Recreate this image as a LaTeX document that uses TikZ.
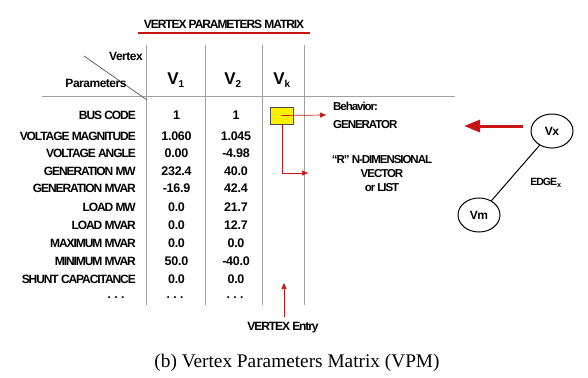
\documentclass[tikz,border=0pt]{standalone}
\usepackage{fontspec}
\setmainfont{Liberation Sans}
\newfontfamily\capfont{Liberation Serif}
\newfontfamily\tightfont[LetterSpace=-9]{Liberation Sans}
\newfontfamily\midfont[LetterSpace=-4]{Liberation Sans}
\newfontfamily\numfont[LetterSpace=-2]{Liberation Sans}
\usetikzlibrary{arrows.meta,shapes.geometric}
\definecolor{arrred}{RGB}{200,20,20}
\definecolor{gridgray}{RGB}{160,160,160}
\definecolor{boxyellow}{RGB}{250,240,0}
\tikzset{
  lbl/.style={font=\tightfont\bfseries\fontsize{12}{13}\selectfont, inner sep=0pt, anchor=east},
  val/.style={font=\numfont\bfseries\fontsize{12.5}{13}\selectfont, inner sep=0pt},
  hdr/.style={font=\midfont\bfseries\fontsize{17}{19}\selectfont, inner sep=0pt},
  note/.style={font=\tightfont\bfseries\fontsize{11.5}{14}\selectfont, inner sep=0pt, align=center},
  gridline/.style={draw=gridgray, line width=0.9pt},
  redarrow/.style={draw=arrred, line width=0.7pt, -{Triangle[length=6pt,width=5pt]}},
  vert/.style={draw, ellipse, minimum width=42pt, minimum height=34pt, line width=1pt, inner sep=0pt, font=\midfont\bfseries\fontsize{12}{13}\selectfont},
  dots/.style={font=\numfont\bfseries\fontsize{12}{13}\selectfont, inner sep=0pt, anchor=base},
}
\begin{document}
\begin{tikzpicture}[x=1pt,y=-1pt]
\useasboundingbox (0,0) rectangle (588,377);
% title
\node[lbl, anchor=center] (title) at (224,24) {VERTEX PARAMETERS MATRIX};
\draw[arrred, line width=2.2pt] (138,33) -- (310,33);
% grid
\coordinate (g1t) at (146,45); \coordinate (g1b) at (146,305);
\coordinate (g2t) at (205,45); \coordinate (g2b) at (205,305);
\coordinate (g3t) at (262,45); \coordinate (g3b) at (262,305);
\coordinate (g4t) at (304,45); \coordinate (g4b) at (304,305);
\coordinate (hl) at (42,96); \coordinate (hr) at (455,96);
\draw[gridline] (g1t) -- (g1b);
\draw[gridline] (g2t) -- (g2b);
\draw[gridline] (g3t) -- (g3b);
\draw[gridline] (g4t) -- (g4b);
\draw[gridline] (hl) -- (hr);
\coordinate (d1) at (84,56); \coordinate (d2) at (147,100);
\draw[draw=gray!80!black, line width=0.8pt] (d1) -- (d2);
\node[lbl, font=\midfont\bfseries\fontsize{12}{13}\selectfont] (vtx) at (143,56) {Vertex};
\node[lbl, anchor=center, font=\midfont\bfseries\fontsize{12}{13}\selectfont] (par) at (96,83) {Parameters};
% headers
\node[hdr] (h1) at (176,80) {V\textsubscript{\fontsize{10}{10}\selectfont1}};
\node[hdr] (h2) at (233,80) {V\textsubscript{\fontsize{10}{10}\selectfont2}};
\node[hdr] (hk) at (282,80) {V\textsubscript{\fontsize{10}{10}\selectfont k}};
% rows
\foreach \y/\l/\a/\b in {
 115/BUS CODE/1/1,
 136/VOLTAGE MAGNITUDE/1.060/1.045,
 153/VOLTAGE ANGLE/0.00/-4.98,
 171/GENERATION MW/232.4/40.0,
 188/GENERATION MVAR/-16.9/42.4,
 207/LOAD MW/0.0/21.7,
 225/LOAD MVAR/0.0/12.7,
 243/MAXIMUM MVAR/0.0/0.0,
 261/MINIMUM MVAR/50.0/-40.0,
 279/SHUNT CAPACITANCE/0.0/0.0}{
  \node[lbl] (l\y) at (136,\y) {\l};
  \node[val] (a\y) at (176.5,\y) {\a};
  \node[val] (b\y) at (236,\y) {\b};
}
\node[dots] (ld) at (116,298) {.\;.\;.};
\node[dots] (ad) at (175,298) {.\;.\;.};
\node[dots] (bd) at (235,298) {.\;.\;.};
% yellow box
\node[draw=black!70, fill=boxyellow, line width=0.9pt, minimum width=23pt, minimum height=17pt, inner sep=0pt] (yb) at (281.5,115.5) {};
\node[note, align=left, anchor=west, font=\tightfont\bfseries\fontsize{11.5}{18}\selectfont] (beh) at (333,115) {Behavior:\\GENERATOR};
\node[note, font=\tightfont\bfseries\fontsize{11.5}{14}\selectfont] (rvec) at (382,174) {“R” N-DIMENSIONAL\\VECTOR\\or LIST};
\coordinate (a1e) at (326,115);
\draw[redarrow] (yb.center) -- (a1e);
\coordinate (a2s) at (282,124);
\coordinate (a2c) at (282,173); \coordinate (a2e) at (308,173);
\draw[redarrow] (a2s) -- (a2c) -- (a2e);
% vertex entry
\node[note, font=\tightfont\bfseries\fontsize{12}{13}\selectfont] (ve) at (283,328) {VERTEX Entry};
\coordinate (vet) at (284,317);
\coordinate (vea) at (284,283);
\draw[redarrow] (vet) -- (vea);
% graph
\node[vert] (vx) at (552,131) {Vx};
\node[vert] (vm) at (479,215) {Vm};
\draw[line width=1pt] (vx) -- (vm);
\node[note, font=\tightfont\bfseries\fontsize{10.5}{12}\selectfont] (edge) at (546,183) {EDGE\textsubscript{x}};
\coordinate (bas) at (523,126);
\coordinate (bae) at (464,126);
\draw[arrred, line width=3pt, -{Triangle[length=16pt,width=12pt]}] (bas) -- (bae);
% caption
\node[inner sep=0pt, font=\capfont\fontsize{19.3}{21}\selectfont] (cap) at (297,363) {(b) Vertex Parameters Matrix (VPM)};
\end{tikzpicture}
\end{document}
